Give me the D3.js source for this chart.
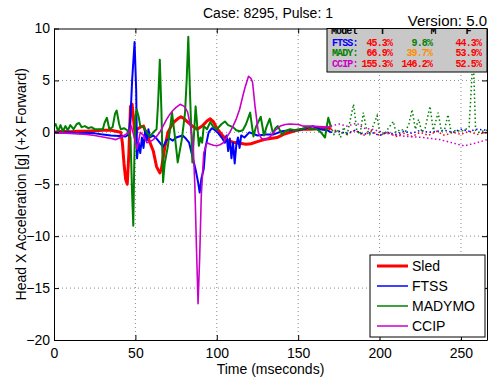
<!DOCTYPE html>
<html>
<head>
<meta charset="utf-8">
<script src="https://cdn.jsdelivr.net/npm/d3@7"></script>
<style>
    body { margin: 0; background: #fff; }
    text { font-family: "Liberation Sans", Arial, sans-serif; fill: #000; }
    .mono { font-family: "Liberation Mono", "Courier New", monospace; font-weight: bold; }
</style>
</head>
<body>
<div id="chart"></div>
<script>
// --- D A T A ---  [time (ms), acceleration (g)]
const sled = [[0,0],[5,0.1],[10,0.05],[15,0.1],[20,0.1],[25,0.15],[30,0.2],[35,0.2],[38,0.1],[41,0],
    [42,-1],[43,-3],[44,-4.5],[45,-5],[46,-2],[47,2.5],[48,2.7],[49,1],[50,-0.5],[51,0.3],[53,0.5],
    [55,0.6],[57,-0.3],[59,-1],[61,-1.8],[63,-3.3],[65,-3.9],[66,-3.5],[68,-1.5],[70,0],[73,0.9],
    [76,1.3],[78,1.5],[80,1.3],[82,1.0],[85,0.6],[88,0.3],[91,0.6],[94,1.1],[96,1.3],[98,1.0],
    [100,0.4],[102,0],[104,-0.4],[107,-0.8],[110,-0.95],[114,-1.05],[118,-1.15],[121,-1.1],[125,-0.9],
    [129,-0.7],[133,-0.6],[137,-0.5],[141,-0.2],[145,0],[149,0.2],[153,0.3],[157,0.3],[161,0.35],
    [165,0.45],[168,0.5],[170,0.3],[175,0.1],[180,-0.2],[185,0.2],[190,-0.3],[195,0.1],[200,-0.3],
    [205,0],[210,-0.4],[215,-0.1],[220,-0.4],[225,0],[230,-0.3],[235,0.1],[240,-0.3],[245,0],
    [250,-0.2],[255,0.1],[260,-0.2],[266,0]];

const ftss = [[0,0],[5,-0.05],[10,0],[15,-0.1],[20,-0.05],[25,-0.1],[30,-0.2],[35,-0.3],[40,-0.35],
    [44,-0.4],[46,-0.2],[47,1.5],[48,5],[49.5,8.7],[50.5,4],[51,-2.5],[52,-1],[53,-2],[54,-0.5],
    [55,-1.5],[56,0.2],[57,-0.8],[58,0.3],[59,-0.5],[61,-0.3],[63,-0.6],[65,-1.0],[67,-1.4],[69,-0.8],
    [71,-0.6],[73,-0.8],[75,-0.5],[77,-0.4],[79,-0.3],[81,-0.6],[83,-1.0],[85,-2.3],[87,-3.6],
    [88.5,-4.8],[89.5,-5.8],[90.5,-4.5],[92,-3.5],[93,-1.5],[95,0],[97,0.4],[99,0.2],[101,-0.1],
    [103,-0.5],[105,-1.0],[106,-0.3],[107,-1.8],[108,-0.6],[109,-2.5],[110,-1.0],[111,-3.0],[112,-1.2],
    [113,-0.5],[114,-1.5],[115,-0.3],[117,-0.5],[120,0],[125,-0.3],[130,-0.2],[135,-0.2],[140,0.1],
    [145,0.2],[150,0.2],[155,0.4],[159,0.6],[163,0.3],[168,0.2],[170,0],[175,0.1],[180,-0.1],[185,0.2],
    [190,-0.2],[195,0],[200,-0.3],[205,0],[210,-0.2],[215,0.1],[220,-0.1],[225,0.2],[230,0],[235,0.1],
    [240,0.2],[245,0],[250,0.3],[255,0.1],[260,0.3],[266,0.2]];

const madymo = [[0,0.6],[1,0.8],[2.5,0.1],[4,0.7],[5.5,0.1],[7,0.6],[8.5,0.2],[10,0.7],[12,0.3],
    [14,0.8],[15.5,0.9],[17,0.5],[19,0.6],[21,0.4],[23,0.5],[25,0.3],[28,0.3],[30,0.3],[31,0.9],
    [32.5,1.4],[34,0.3],[36,0.5],[37.5,1.8],[38.5,2.1],[40,0.8],[41,0.3],[43,0.4],[45,0.2],[47,-0.5],
    [48,-6],[48.7,-9.0],[49.3,-3],[50,1.5],[50.8,2.2],[52,1.5],[53,0.6],[55,0.5],[57,0],[59,-0.4],
    [61,0],[63,0.3],[64,3],[65,7.0],[66,2],[67,-4.8],[68,-3],[70,-1.3],[72.5,1.9],[74.5,-0.7],
    [76,-2.9],[78.5,-0.7],[80.5,1.9],[81.5,5],[82.5,9.2],[83.5,4],[85,-2.9],[87,2.5],[89,-1.3],
    [90,-0.5],[91,-1.0],[92,0.6],[94,0.3],[96,1.0],[98,0.5],[100,0.3],[103,0.8],[105,1.05],[107,0.7],
    [110,0.5],[112,0.2],[114,0.1],[116,0.2],[118,0.8],[120.5,1.9],[122.5,-0.4],[124,0.5],[127,1.5],
    [129,-0.3],[130.5,0.5],[132.5,1.3],[134.5,-0.1],[136,0.4],[137.5,0.6],[140,-0.2],[142,0.1],
    [145,0.3],[148,0.2],[152,0.3],[155.5,0.5],[158,0.3],[161.5,0.3],[164,0],[166.5,-0.5],[167.5,0.5],
    [168.5,1.4],[170,0.6],[172,-0.2],[174,0.3],[176,-0.5],[178,0.5],[180,-0.3],[182,1.2],[184,2.7],
    [186,0.2],[188,-0.2],[190,1.9],[192,0.3],[194,-0.2],[196,0.6],[198.5,1.6],[200,0],[203,-0.2],
    [205,0.3],[208.5,1.05],[210,0],[213,0.3],[216,0.1],[218,0.8],[220,2.2],[222,0.3],[224,1.25],
    [226,0],[228,0.4],[231,2.5],[233,0.2],[236,1.9],[238,0.1],[240,0.3],[242,1.7],[244,0],[247,0.2],
    [250,0.1],[253,0.3],[255,0.5],[257.5,7.5],[259,0.2],[261,0],[263,0.1],[266,0.2]];

const ccip = [[0,0],[5,-0.05],[10,-0.1],[15,-0.15],[20,-0.2],[25,-0.3],[30,-0.45],[35,-0.6],[38,-0.7],
    [41,-0.5],[44,-0.2],[46,0],[47.5,0.6],[49,-0.3],[51,-1.6],[53,0],[55,-0.3],[57,-1.0],[59,-0.9],
    [61,-0.7],[63,-0.4],[65,0],[67,0.6],[69,1.2],[71,1.7],[73,2.1],[75,2.4],[77.5,2.7],[80,2.5],
    [82,2.0],[84,0.5],[85.5,-1.3],[86.5,-5],[87.5,-11],[88.5,-16.5],[89.5,-12],[90.5,-6],[92,-2],
    [94,-1.0],[96,-1.15],[98,-1.25],[100,-1.3],[102,-1.2],[104,-1.0],[106,-0.5],[108,0],[110,0.6],
    [112,1.3],[114,2.2],[116,3.5],[117.5,4.4],[119.5,5.4],[121,5.2],[122,4.8],[123.5,2.5],[125.5,0],
    [127.5,-0.6],[130,-0.7],[133,-0.4],[136,0.2],[139,0.6],[142,0.75],[145,0.8],[150,0.75],[153,0.6],
    [158,0.6],[163,0.55],[168,0.5],[170,0.6],[175,0.8],[180,0.6],[186,0.9],[190,0.4],[195,0.3],
    [200,0.1],[207,-0.2],[212,-0.3],[217,-0.4],[222,-0.45],[227,-0.5],[232,-0.6],[237,-0.7],
    [242,-0.9],[248,-1.15],[252,-1.3],[256,-1.15],[260,-1.0],[266,-0.7]];

const seriesNames = ['Sled', 'FTSS', 'MADYMO', 'CCIP'];
const seriesData = [sled, ftss, madymo, ccip];
const seriesColors = ['#ff0000', '#0000ff', '#008000', '#c800c8'];
const seriesWidths = [3, 2, 2, 1.6];
const dottedFrom = 170;     // test data after this time is drawn dotted

const xTicks = [0, 50, 100, 150, 200, 250];
const yTicks = [-20, -15, -10, -5, 0, 5, 10];

// rating table (T, M, F in %)
const tableModels = ['FTSS:', 'MADY:', 'CCIP:'];
const tableColors = ['#0000ff', '#008000', '#c800c8'];
const tableT = [45.3, 66.9, 155.3];
const tableM = [9.8, 39.7, 146.2];
const tableF = [44.3, 53.9, 52.5];

// --- F I G U R E ---
const width = 489, height = 381;
const margin = [28.5, 41, 54, 2];   // top, bottom, left, right

const svg = d3.select('#chart')
    .append('svg')
    .attr('width', width)
    .attr('height', height);

const scaleX = d3.scaleLinear([0, 266], [margin[2], width - margin[3]]);
const scaleY = d3.scaleLinear([-20, 10], [height - margin[1], margin[0]]);

svg.append('clipPath').attr('id', 'plotclip')
    .append('rect')
    .attr('x', margin[2]).attr('y', margin[0])
    .attr('width', width - margin[2] - margin[3])
    .attr('height', height - margin[0] - margin[1]);

// grid
const grid = svg.append('g').attr('stroke', '#8c8c8c').attr('stroke-dasharray', '1,3');
grid.selectAll('.gx').data(xTicks.slice(1)).join('line')
    .attr('x1', d => scaleX(d)).attr('x2', d => scaleX(d))
    .attr('y1', scaleY(-20)).attr('y2', scaleY(10));
grid.selectAll('.gy').data(yTicks.slice(1, -1)).join('line')
    .attr('y1', d => scaleY(d)).attr('y2', d => scaleY(d))
    .attr('x1', scaleX(0)).attr('x2', scaleX(266));

// curves: solid up to dottedFrom, dotted afterwards
const lineGen = d3.line()
    .curve(d3.curveLinear)
    .x(d => scaleX(d[0]))
    .y(d => scaleY(d[1]));

const curves = svg.append('g').attr('clip-path', 'url(#plotclip)').attr('fill', 'none');
seriesData.forEach((data, i) => {
    curves.append('path')
        .datum(data.filter(d => d[0] >= dottedFrom))
        .attr('d', lineGen)
        .attr('stroke', seriesColors[i])
        .attr('stroke-width', 1.5)
        .attr('stroke-dasharray', '1.5,2.5');
});
seriesData.forEach((data, i) => {
    curves.append('path')
        .datum(data.filter(d => d[0] <= dottedFrom))
        .attr('d', lineGen)
        .attr('stroke', seriesColors[i])
        .attr('stroke-width', seriesWidths[i])
        .attr('stroke-linejoin', 'round');
});

// axes (ticks point inward, box on all four sides)
svg.append('g')
    .attr('transform', `translate(0,${scaleY(-20)})`)
    .call(d3.axisBottom(scaleX).tickValues(xTicks).tickSizeInner(-5).tickSizeOuter(0).tickPadding(8));
svg.append('g')
    .attr('transform', `translate(${scaleX(0)},0)`)
    .call(d3.axisLeft(scaleY).tickValues(yTicks).tickSizeInner(-5).tickSizeOuter(0).tickPadding(4));
svg.append('g')
    .attr('transform', `translate(0,${scaleY(10)})`)
    .call(d3.axisTop(scaleX).tickValues(xTicks).tickSizeInner(-5).tickSizeOuter(0).tickFormat(''));
svg.append('g')
    .attr('transform', `translate(${scaleX(266)},0)`)
    .call(d3.axisRight(scaleY).tickValues(yTicks).tickSizeInner(-5).tickSizeOuter(0).tickFormat(''));

svg.selectAll('.tick text')
    .style('font-family', '"Liberation Sans", Arial, sans-serif')
    .style('font-size', '14px');
svg.selectAll('.domain, .tick line').attr('stroke', '#000');

// labels
svg.append('text')
    .attr('x', (scaleX(0) + scaleX(266)) / 2).attr('y', 374)
    .style('text-anchor', 'middle').style('font-size', '14px')
    .text('Time (mseconds)');
svg.append('text')
    .attr('transform', `translate(26,${(scaleY(10) + scaleY(-20)) / 2})rotate(-90)`)
    .style('text-anchor', 'middle').style('font-size', '14px')
    .text('Head X Acceleration [g] (+X Forward)');
svg.append('text')
    .attr('x', 268).attr('y', 18)
    .style('text-anchor', 'middle').style('font-size', '14px')
    .text('Case: 8295, Pulse: 1');
svg.append('text')
    .attr('x', 487).attr('y', 25.5)
    .style('text-anchor', 'end').style('font-size', '15px')
    .text('Version: 5.0');

// rating table
const rateColor = v => v < 20 ? '#008000' : (v < 40 ? '#ff8c00' : '#ff0000');
const pct = v => d3.format('.1f')(v) + '%';
const table = svg.append('g');
svg.append('clipPath').attr('id', 'tableclip')
    .append('rect').attr('x', 327).attr('y', 29).attr('width', 160).attr('height', 43);
table.append('rect')
    .attr('x', 327).attr('y', 28.5).attr('width', 160).attr('height', 43.5)
    .attr('fill', '#c8c8c8').attr('stroke', '#000');
const tableText = table.append('g').attr('clip-path', 'url(#tableclip)')
    .attr('class', 'mono').style('font-size', '10px').style('letter-spacing', '-0.9px');
[['Model', 331, 'start'], ['T', 382, 'middle'], ['M', 433, 'middle'], ['F', 468, 'middle']]
    .forEach(h => tableText.append('text').attr('class', 'mono')
        .attr('x', h[1]).attr('y', 34).style('text-anchor', h[2]).text(h[0]));
tableModels.forEach((m, i) => {
    const y = 45.5 + i * 10.5;
    tableText.append('text').attr('class', 'mono').attr('x', 332).attr('y', y)
        .style('fill', tableColors[i]).text(m);
    [[tableT, 392], [tableM, 432], [tableF, 481]].forEach(c => {
        tableText.append('text').attr('class', 'mono').attr('x', c[1]).attr('y', y)
            .style('text-anchor', 'end').style('fill', rateColor(c[0][i]))
            .text(pct(c[0][i]));
    });
});

// legend
const legend = svg.append('g');
legend.append('rect')
    .attr('x', 370).attr('y', 255).attr('width', 115).attr('height', 82)
    .attr('fill', '#fff').attr('stroke', '#000');
seriesNames.forEach((name, i) => {
    const y = 266 + i * 20;
    legend.append('line')
        .attr('x1', 377).attr('x2', 408).attr('y1', y).attr('y2', y)
        .attr('stroke', seriesColors[i]).attr('stroke-width', i === 0 ? 3 : 1.5);
    legend.append('text')
        .attr('x', 412).attr('y', y).attr('dy', '0.35em')
        .style('font-size', '14px').text(name);
});
</script>
</body>
</html>
